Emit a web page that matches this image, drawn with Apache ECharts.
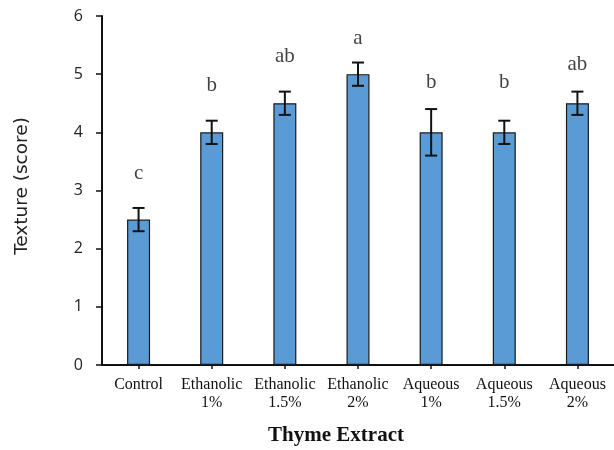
<!DOCTYPE html>
<html><head><meta charset="utf-8">
<script src="https://cdn.jsdelivr.net/npm/echarts@6/dist/echarts.min.js"></script>
<style>html,body{margin:0;padding:0;background:#fff}#c{width:614px;height:450px}</style>
</head><body><div id="c"></div>
<script>
const categories = ['Control\n ', 'Ethanolic\n1%', 'Ethanolic\n1.5%', 'Ethanolic\n2%', 'Aqueous\n1%', 'Aqueous\n1.5%', 'Aqueous\n2%'];
const means = [2.5, 4.0, 4.5, 5.0, 4.0, 4.0, 4.5];
const errors = [0.2, 0.2, 0.2, 0.2, 0.4, 0.2, 0.2];
const letters = ['c', 'b', 'ab', 'a', 'b', 'b', 'ab'];
const letterPos = [3.3, 4.8, 5.3, 5.62, 4.85, 4.85, 5.16];
const yTicks = [0, 1, 2, 3, 4, 5, 6];

const chart = echarts.init(document.getElementById('c'), null, {renderer: 'canvas'});
const errData = means.map((m, i) => [i, m - errors[i], m + errors[i]]);
chart.setOption({
  animation: false,
  grid: {left: 102, top: 16, width: 513, bottom: 85, containLabel: false},
  xAxis: {
    type: 'category', data: categories,
    axisLine: {lineStyle: {color: '#111', width: 2}},
    axisTick: {show: true, alignWithLabel: true, length: 4, lineStyle: {color: '#111', width: 1.5}},
    axisLabel: {fontFamily: 'Liberation Serif', fontSize: 16, color: '#111', margin: 11, lineHeight: 18, interval: 0}
  },
  yAxis: {
    type: 'value', min: yTicks[0], max: yTicks[yTicks.length - 1], interval: 1,
    splitLine: {show: false},
    axisLine: {show: true, lineStyle: {color: '#111', width: 2}},
    axisTick: {show: true, length: 6, lineStyle: {color: '#111', width: 1.5}},
    axisLabel: {fontFamily: 'Open Sans', fontSize: 16, color: '#222', margin: 19}
  },
  graphic: [
    {type: 'text', style: {text: 'Thyme Extract', x: 336, y: 436, align: 'center', verticalAlign: 'middle', font: 'bold 21px "Liberation Serif"', fill: '#111'}, z: 10},
    {type: 'text', x: 22, y: 186, rotation: Math.PI / 2, style: {text: 'Texture (score)', align: 'center', verticalAlign: 'middle', font: '18.5px "DejaVu Sans"', fill: '#222'}}
  ],
  series: [
    {
      type: 'bar', data: means, barWidth: 23,
      itemStyle: {color: '#5B9BD5', borderColor: '#1a1a1a', borderWidth: 1.2}
    },
    {
      type: 'custom', data: errData, z: 5,
      renderItem: function (params, api) {
        const x = api.value(0);
        const lo = api.coord([x, api.value(1)]);
        const hi = api.coord([x, api.value(2)]);
        const hw = 6;
        const st = {stroke: '#111', lineWidth: 2};
        return {type: 'group', children: [
          {type: 'line', shape: {x1: lo[0], y1: lo[1], x2: hi[0], y2: hi[1]}, style: st},
          {type: 'line', shape: {x1: lo[0] - hw, y1: lo[1], x2: lo[0] + hw, y2: lo[1]}, style: st},
          {type: 'line', shape: {x1: hi[0] - hw, y1: hi[1], x2: hi[0] + hw, y2: hi[1]}, style: st}
        ]};
      }
    },
    {
      type: 'scatter', symbolSize: 0, silent: true,
      data: letterPos.map((v, i) => [i, v]),
      label: {show: true, position: 'inside', formatter: p => letters[p.dataIndex],
        fontFamily: 'Liberation Serif', fontSize: 21, color: '#111'}
    }
  ]
});
</script></body></html>
